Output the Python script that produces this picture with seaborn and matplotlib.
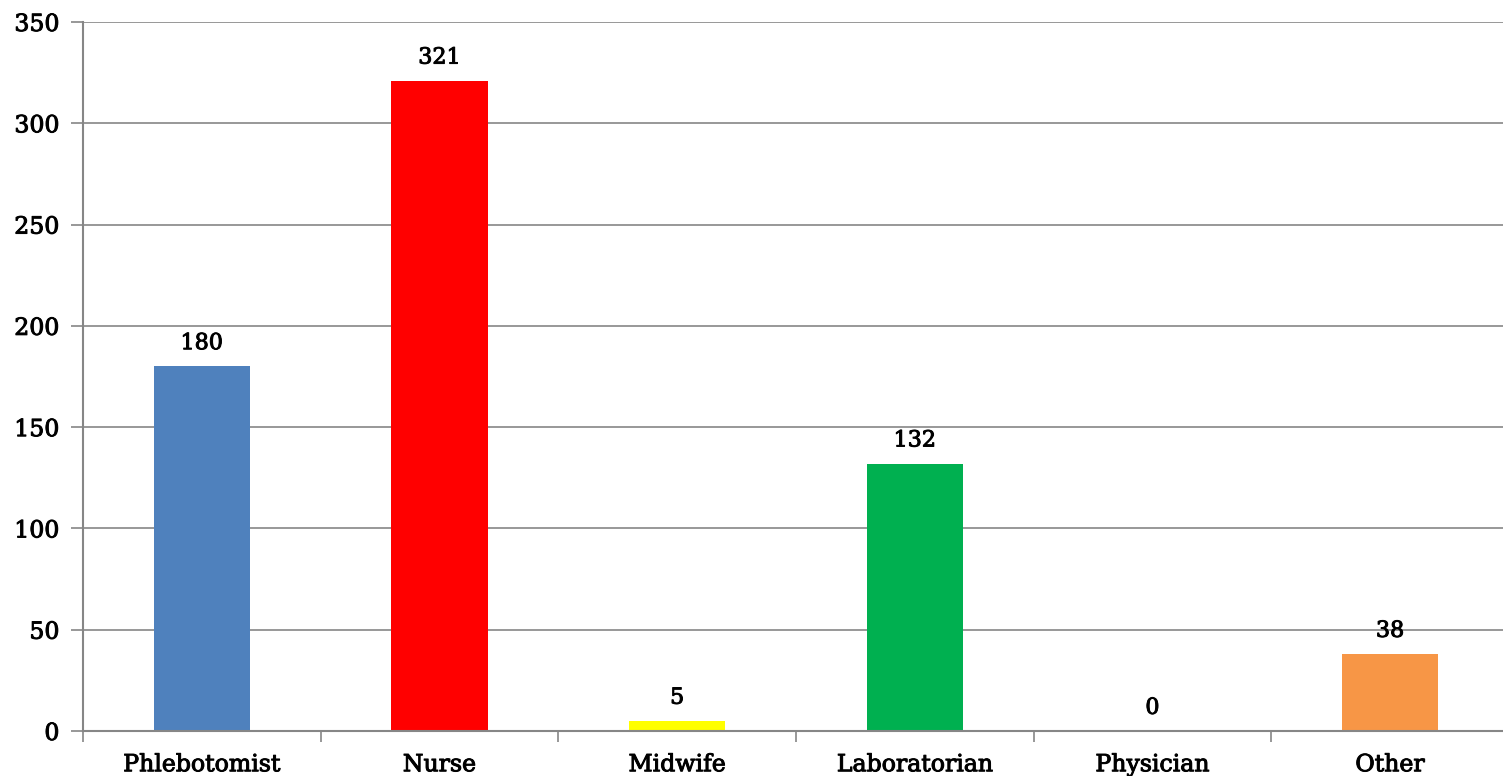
import matplotlib
matplotlib.use("Agg")
import matplotlib.pyplot as plt
import matplotlib.patheffects as pe
import seaborn as sns
import pandas as pd

categories = ["Phlebotomist", "Nurse", "Midwife", "Laboratorian", "Physician", "Other"]
counts = [180, 321, 5, 132, 0, 38]
bar_colors = ["#4f81bd", "#ff0000", "#ffff00", "#00b050", "#9bbb59", "#f79646"]
y_ticks = [0, 50, 100, 150, 200, 250, 300, 350]

df = pd.DataFrame({"role": categories, "count": counts})

sns.set_theme(style="white")
plt.rcParams["font.family"] = ["DejaVu Serif"]
plt.rcParams["text.color"] = "black"
plt.rcParams["xtick.color"] = "black"
plt.rcParams["ytick.color"] = "black"

fig = plt.figure(figsize=(15.03, 7.76), dpi=100)
# plot area runs slightly past the right edge of the canvas
ax = fig.add_axes([83 / 1503, 45 / 776, 1426 / 1503, (731 - 22) / 776])

sns.barplot(data=df, x="role", y="count", hue="role", palette=bar_colors,
            width=0.404, legend=False, ax=ax, saturation=1, linewidth=0)

grid_c = "#868686"
ax.set_ylim(0, 350)
ax.set_xlim(-0.5, len(categories) - 0.5)
ax.set_yticks(y_ticks)
ax.yaxis.grid(True, color=grid_c, linewidth=1.2)
ax.set_axisbelow(True)
for side in ["top", "right"]:
    ax.spines[side].set_visible(False)
for side in ["left", "bottom"]:
    ax.spines[side].set_color(grid_c)
    ax.spines[side].set_linewidth(1.5)

ax.set_xlabel("")
ax.set_ylabel("")
bold_fx = [pe.withStroke(linewidth=0.7, foreground="black")]
ax.tick_params(axis="y", which="major", length=9, width=1.2, color=grid_c,
               labelsize=17, pad=8, left=True, labelcolor="black")
ax.set_xticks(range(len(categories)))
ax.set_xticklabels(categories, fontsize=17, color="black")
ax.tick_params(axis="x", which="major", length=0, pad=16)
# category separators
ax.set_xticks([i - 0.5 for i in range(len(categories) + 1)], minor=True)
ax.tick_params(axis="x", which="minor", length=8, width=1.2, color=grid_c, bottom=True)
for lbl in ax.get_xticklabels() + ax.get_yticklabels():
    lbl.set_path_effects(bold_fx)

for i, v in enumerate(counts):
    ax.text(i, v + 6, str(v), ha="center", va="bottom", fontsize=16,
            color="black", path_effects=bold_fx)

fig.savefig("out.png", dpi=100)
